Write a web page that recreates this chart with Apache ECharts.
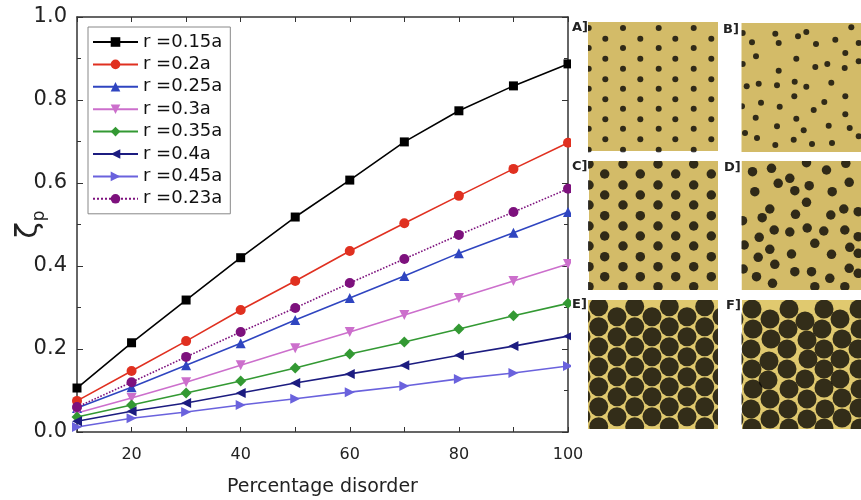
<!DOCTYPE html>
<html>
<head>
<meta charset="utf-8">
<script src="https://cdn.jsdelivr.net/npm/echarts@6/dist/echarts.min.js"></script>
<style>
  html, body { margin: 0; padding: 0; background: #fff; }
  #chart { width: 861px; height: 500px; }
</style>
</head>
<body>
<div id="chart"></div>
<script>
// 横轴：无序百分比
const disorder = [10, 20, 30, 40, 50, 60, 70, 80, 90, 100];
// 各半径下的 ζp
const r015 = [0.106, 0.215, 0.318, 0.42, 0.518, 0.607, 0.699, 0.774, 0.834, 0.887];
const r020 = [0.075, 0.147, 0.219, 0.294, 0.364, 0.436, 0.503, 0.569, 0.634, 0.697];
const r025 = [0.058, 0.108, 0.161, 0.214, 0.27, 0.323, 0.376, 0.431, 0.48, 0.53];
const r030 = [0.046, 0.082, 0.12, 0.161, 0.202, 0.241, 0.282, 0.323, 0.364, 0.405];
const r035 = [0.036, 0.065, 0.094, 0.123, 0.154, 0.188, 0.217, 0.248, 0.28, 0.31];
const r040 = [0.026, 0.05, 0.07, 0.094, 0.118, 0.14, 0.161, 0.185, 0.207, 0.231];
const r045 = [0.012, 0.033, 0.048, 0.065, 0.08, 0.096, 0.111, 0.128, 0.142, 0.159];
const r023 = [0.06, 0.12, 0.181, 0.241, 0.299, 0.359, 0.417, 0.475, 0.53, 0.586];
const yTicks = [0, 0.2, 0.4, 0.6, 0.8, 1.0];

// 右侧小图：有序晶格（列位置 / 行位置，单位 px）
const aColsOdd = [0.7, 35, 70.7, 105.7];
const aRowsOdd = [6, 26, 46.7, 66.7, 86.7, 106.7, 127.7];
const aColsEven = [17.3, 52.3, 87.3, 123.3];
const aRowsEven = [16.7, 36.7, 57.3, 77.3, 97.3, 117.3];

const cColsOdd = [0, 34, 69, 104.7];
const cRowsOdd = [3, 24, 44, 65, 85, 105.7, 125.7];
const cColsEven = [15.7, 51.3, 86.7, 122.3];
const cRowsEven = [13, 34, 54.7, 75, 95.7, 115.7];

const eColsOdd = [10.7, 46.7, 81.3, 116.7];
const eRowsOdd = [6.7, 26.7, 46.7, 66.7, 86.7, 106.7, 126.7];
const eColsEven = [-7, 29, 64, 99, 134];
const eRowsEven = [16.7, 36.7, 56.7, 76.7, 96.7, 116.7];

// 无序图案中读出的孔位置
const bDots = [
  [1.7, 10], [11, 19.3], [34.3, 10.7], [37.7, 20], [57, 13.3], [65.3, 9], [75, 21], [94.3, 16.7],
  [110.3, 4.3], [104.3, 30], [15, 33.3], [55.3, 35.7], [37.7, 47.7], [74.3, 44], [86.3, 41],
  [103.7, 45], [1.7, 41], [5.7, 63.3], [17.7, 60.7], [36, 62.3], [53.7, 58.7], [65.3, 63.7],
  [90.3, 59.7], [104.3, 73.3], [53.3, 73.3], [20, 79.7], [38.7, 83.7], [72.7, 87], [83.3, 79],
  [1, 83.3], [14.7, 94.7], [55.3, 95.7], [104.3, 91.3], [36, 103.3], [87.7, 102.7], [108.7, 105],
  [4, 110], [62.7, 107.3], [16, 115], [34.3, 122], [52.7, 116.7], [71, 121], [91, 120],
  [117.7, 20], [117.7, 38.3], [117.7, 113.3]
];
const dDots = [
  [11, 10.7], [30, 7.3], [48.3, 17.3], [65, 1.7], [85, 9], [104.3, 2.3], [107.7, 21.3], [36.7, 22.3],
  [67.7, 24.7], [53.3, 29.7], [13.3, 30.7], [90.7, 30.7], [65, 41.3], [28.3, 48], [20.7, 56.7],
  [54, 53.3], [89.3, 54], [102.3, 48], [32.7, 69], [48.3, 71], [65.7, 67], [82.3, 70], [103.3, 69],
  [17.7, 76.3], [73.3, 82.3], [2.7, 84], [28.3, 88.3], [50, 93], [90, 93.3], [108.3, 86.3],
  [16.7, 96.3], [33.3, 103.3], [1.7, 108], [53.3, 110.7], [70, 110.7], [88.3, 117.3], [107.7, 107.3],
  [15, 115.7], [31, 122.3], [73.3, 125.7], [103.3, 125.7], [116.7, 75.7], [116.7, 92.3],
  [116.7, 112.3], [1, 59.7], [116.7, 50.7]
];
const fDots = [
  [10, 9], [11, 29], [9, 49], [10, 69], [11, 89], [9, 109], [10, 128],
  [28, 19], [29, 39], [27, 61], [26, 80], [28, 99], [28, 119],
  [47, 9], [46, 29], [45, 49], [45, 69], [47, 89], [46, 109], [47, 128],
  [63, 21], [65, 40], [66, 59], [63, 79], [65, 99], [65, 119],
  [82, 9], [80, 29], [82, 49], [82, 69], [82, 88], [83, 109], [82, 128],
  [98, 19], [100, 39], [98, 59], [98, 79], [100, 98], [100, 118],
  [117, 9], [118, 29], [116, 49], [117, 69], [118, 89], [117, 108], [118, 128],
  [-8, 19], [-8, 39], [-8, 59], [-8, 79], [-8, 99], [-8, 119]
];

function lattice(cols, rows) {
  const pts = [];
  cols.forEach((x) => rows.forEach((y) => pts.push([x, y])));
  return pts;
}

const lines = [
  { name: "r =0.15a", data: r015, color: "#000000", symbol: "rect", rotate: 0, size: 9, type: "solid" },
  { name: "r =0.2a", data: r020, color: "#e03020", symbol: "circle", rotate: 0, size: 10, type: "solid" },
  { name: "r =0.25a", data: r025, color: "#2f45c0", symbol: "triangle", rotate: 0, size: 10, type: "solid" },
  { name: "r =0.3a", data: r030, color: "#cc6fcc", symbol: "triangle", rotate: 180, size: 10, type: "solid" },
  { name: "r =0.35a", data: r035, color: "#339933", symbol: "diamond", rotate: 0, size: 11, type: "solid" },
  { name: "r =0.4a", data: r040, color: "#1c1c80", symbol: "triangle", rotate: 90, size: 10, type: "solid" },
  { name: "r =0.45a", data: r045, color: "#6a62dd", symbol: "triangle", rotate: -90, size: 10, type: "solid" },
  { name: "r =0.23a", data: r023, color: "#7d117d", symbol: "circle", rotate: 0, size: 10, type: "dotted" }
];

const font = "DejaVu Sans";
const axisColor = "#333";
const panels = [
  { left: 588, top: 22, dots: lattice(aColsOdd, aRowsOdd).concat(lattice(aColsEven, aRowsEven)), size: 6, bg: "#d3bb68" },
  { left: 741, top: 23, dots: bDots, size: 6, bg: "#d3bb68" },
  { left: 589, top: 161, dots: lattice(cColsOdd, cRowsOdd).concat(lattice(cColsEven, cRowsEven)), size: 9.5, bg: "#d3bb68" },
  { left: 741.5, top: 161, dots: dDots, size: 9.5, bg: "#d3bb68" },
  { left: 588, top: 300, dots: lattice(eColsOdd, eRowsOdd).concat(lattice(eColsEven, eRowsEven)), size: 19, bg: "#e0c96f" },
  { left: 742, top: 300, dots: fDots, size: 19, bg: "#e0c96f" }
];

const grids = [{ left: 77, top: 17, width: 491, height: 415, outerBoundsMode: "none" }];
const xAxes = [
  {
    type: "value", gridIndex: 0, min: 10, max: 100, interval: 10,
    name: "Percentage disorder", nameLocation: "middle", nameGap: 46, nameMoveOverlap: false,
    nameTextStyle: { fontSize: 19, color: "#222", fontFamily: font },
    axisLine: { show: true, lineStyle: { color: axisColor, width: 1.5 } },
    axisTick: { inside: true, length: 5, lineStyle: { color: axisColor } },
    axisLabel: {
      margin: 15, fontSize: 16, color: "#222", fontFamily: font,
      formatter: (v) => (v % 20 === 0 ? String(v) : "")
    },
    splitLine: { show: false }
  },
  {
    type: "value", gridIndex: 0, position: "top", min: 10, max: 100, interval: 10,
    axisLine: { show: true, onZero: false, lineStyle: { color: axisColor, width: 1.5 } },
    axisTick: { inside: true, length: 5, lineStyle: { color: axisColor } },
    axisLabel: { show: false }, splitLine: { show: false }
  }
];
const yAxes = [
  {
    type: "value", gridIndex: 0, min: yTicks[0], max: yTicks[yTicks.length - 1], interval: 0.2,
    name: "{a|ζ}{b|p}", nameLocation: "middle", nameRotate: 90, nameGap: 29, nameMoveOverlap: false,
    nameTextStyle: {
      rich: {
        a: { fontSize: 30, color: "#222", fontFamily: font },
        b: { fontSize: 17, color: "#222", fontFamily: font, padding: [20, 0, 0, 1] }
      }
    },
    axisLine: { show: true, lineStyle: { color: axisColor, width: 1.5 } },
    axisTick: { inside: true, length: 6, lineStyle: { color: axisColor } },
    minorTick: { show: true, splitNumber: 2, length: 4, lineStyle: { color: axisColor } },
    axisLabel: {
      margin: 10, fontSize: 21, color: "#222", fontFamily: font,
      formatter: (v) => v.toFixed(1)
    },
    splitLine: { show: false }, minorSplitLine: { show: false }
  },
  {
    type: "value", gridIndex: 0, position: "right", min: 0, max: 1, interval: 0.2,
    axisLine: { show: true, onZero: false, lineStyle: { color: axisColor, width: 1.5 } },
    axisTick: { inside: true, length: 6, lineStyle: { color: axisColor } },
    minorTick: { show: true, splitNumber: 2, length: 4, lineStyle: { color: axisColor } },
    axisLabel: { show: false }, splitLine: { show: false }
  }
];

const series = lines.map((s) => ({
  name: s.name,
  type: "line",
  xAxisIndex: 0,
  yAxisIndex: 0,
  data: disorder.map((x, i) => [x, s.data[i]]),
  symbol: s.symbol,
  symbolRotate: s.rotate,
  symbolSize: s.size,
  showAllSymbol: true,
  clip: false,
  itemStyle: { color: s.color },
  lineStyle: { color: s.color, width: 1.6, type: s.type }
}));

panels.forEach((p, i) => {
  const gi = i + 1;
  grids.push({
    left: p.left, top: p.top, width: 130, height: 129, show: true,
    backgroundColor: p.bg, borderWidth: 0, outerBoundsMode: "none"
  });
  xAxes.push({ type: "value", gridIndex: gi, min: 0, max: 130, show: false });
  yAxes.push({ type: "value", gridIndex: gi, min: 0, max: 129, inverse: true, show: false });
  series.push({
    type: "scatter",
    xAxisIndex: gi + 1,
    yAxisIndex: gi + 1,
    data: p.dots,
    symbolSize: p.size,
    clip: false,
    silent: true,
    itemStyle: { color: "#080604" }
  });
});

// 白色遮挡条：裁掉超出小图边缘的孔
const covers = [
  [571, 0, 17, 432], [718, 0, 23.5, 500], [571, 0, 290, 22],
  [571, 152.5, 290, 8.5], [571, 290, 290, 10], [588, 429, 273, 71]
];
const panelLabels = [
  ["A]", 572, 21], ["B]", 723, 23], ["C]", 572, 160],
  ["D]", 724, 161], ["E]", 572, 298], ["F]", 726, 299]
];

const graphic = covers.map((c) => ({
  type: "rect", z: 100, silent: true,
  shape: { x: c[0], y: c[1], width: c[2], height: c[3] },
  style: { fill: "#ffffff" }
})).concat(panelLabels.map((l) => ({
  type: "text", z: 101, left: l[1], top: l[2], silent: true,
  style: { text: l[0], fontSize: 13, fontWeight: "bold", fill: "#222", fontFamily: font }
})));

const chart = echarts.init(document.getElementById("chart"));
chart.setOption({
  animation: false,
  backgroundColor: "#ffffff",
  grid: grids,
  xAxis: xAxes,
  yAxis: yAxes,
  legend: {
    data: lines.map((s) => s.name),
    orient: "vertical",
    left: 88,
    top: 27,
    itemWidth: 45,
    itemHeight: 12,
    itemGap: 4.4,
    padding: [6, 8, 6, 4],
    borderColor: "#888",
    borderWidth: 1,
    textStyle: { fontSize: 18, lineHeight: 18, color: "#111", fontFamily: font }
  },
  graphic: graphic,
  series: series
});
</script>
</body>
</html>
